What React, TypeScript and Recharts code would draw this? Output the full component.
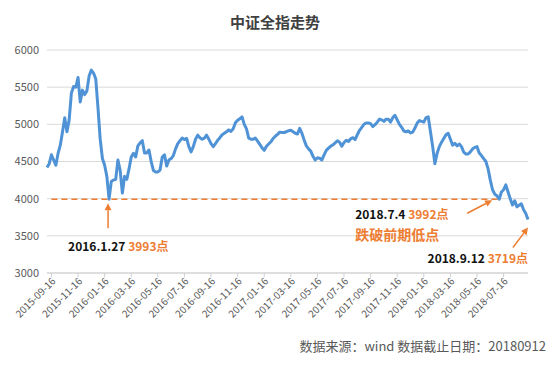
import React from "react";
import {
  CartesianGrid,
  Line,
  LineChart,
  ReferenceDot,
  ReferenceLine,
  XAxis,
  YAxis
} from "recharts";

const dates = [
  "2015-09-06", "2015-09-11", "2015-09-16", "2015-09-21", "2015-09-26",
  "2015-10-01", "2015-10-06", "2015-10-11", "2015-10-16", "2015-10-21", "2015-10-26",
  "2015-11-01", "2015-11-06", "2015-11-11", "2015-11-16", "2015-11-21", "2015-11-26",
  "2015-12-01", "2015-12-06", "2015-12-11", "2015-12-16", "2015-12-21", "2015-12-26",
  "2016-01-01", "2016-01-06", "2016-01-11", "2016-01-16", "2016-01-21", "2016-01-27",
  "2016-02-01", "2016-02-06", "2016-02-11", "2016-02-16", "2016-02-21", "2016-02-26",
  "2016-03-01", "2016-03-06", "2016-03-11", "2016-03-16", "2016-03-21", "2016-03-26",
  "2016-04-01", "2016-04-06", "2016-04-11", "2016-04-16", "2016-04-21", "2016-04-26",
  "2016-05-01", "2016-05-06", "2016-05-11", "2016-05-16", "2016-05-21", "2016-05-26",
  "2016-06-01", "2016-06-06", "2016-06-11", "2016-06-16", "2016-06-21", "2016-06-26",
  "2016-07-01", "2016-07-06", "2016-07-11", "2016-07-16", "2016-07-21", "2016-07-26",
  "2016-08-01", "2016-08-06", "2016-08-11", "2016-08-16", "2016-08-21", "2016-08-26",
  "2016-09-01", "2016-09-06", "2016-09-11", "2016-09-16", "2016-09-21", "2016-09-26",
  "2016-10-01", "2016-10-06", "2016-10-11", "2016-10-16", "2016-10-21", "2016-10-26",
  "2016-11-01", "2016-11-06", "2016-11-11", "2016-11-16", "2016-11-21", "2016-11-26",
  "2016-12-01", "2016-12-06", "2016-12-11", "2016-12-16", "2016-12-21", "2016-12-26",
  "2017-01-01", "2017-01-06", "2017-01-11", "2017-01-16", "2017-01-21", "2017-01-26",
  "2017-02-01", "2017-02-06", "2017-02-11", "2017-02-16", "2017-02-21", "2017-02-26",
  "2017-03-01", "2017-03-06", "2017-03-11", "2017-03-16", "2017-03-21", "2017-03-26",
  "2017-04-01", "2017-04-06", "2017-04-11", "2017-04-16", "2017-04-21", "2017-04-26",
  "2017-05-01", "2017-05-06", "2017-05-11", "2017-05-16", "2017-05-21", "2017-05-26",
  "2017-06-01", "2017-06-06", "2017-06-11", "2017-06-16", "2017-06-21", "2017-06-26",
  "2017-07-01", "2017-07-06", "2017-07-11", "2017-07-16", "2017-07-21", "2017-07-26",
  "2017-08-01", "2017-08-06", "2017-08-11", "2017-08-16", "2017-08-21", "2017-08-26",
  "2017-09-01", "2017-09-06", "2017-09-11", "2017-09-16", "2017-09-21", "2017-09-26",
  "2017-10-01", "2017-10-06", "2017-10-11", "2017-10-16", "2017-10-21", "2017-10-26",
  "2017-11-01", "2017-11-06", "2017-11-11", "2017-11-16", "2017-11-21", "2017-11-26",
  "2017-12-01", "2017-12-06", "2017-12-11", "2017-12-16", "2017-12-21", "2017-12-26",
  "2018-01-01", "2018-01-06", "2018-01-11", "2018-01-16", "2018-01-21", "2018-01-26",
  "2018-02-01", "2018-02-06", "2018-02-11", "2018-02-16", "2018-02-21", "2018-02-26",
  "2018-03-01", "2018-03-06", "2018-03-11", "2018-03-16", "2018-03-21", "2018-03-26",
  "2018-04-01", "2018-04-06", "2018-04-11", "2018-04-16", "2018-04-21", "2018-04-26",
  "2018-05-01", "2018-05-06", "2018-05-11", "2018-05-16", "2018-05-21", "2018-05-26",
  "2018-06-01", "2018-06-06", "2018-06-11", "2018-06-16", "2018-06-21", "2018-06-26",
  "2018-07-01", "2018-07-04", "2018-07-11", "2018-07-16", "2018-07-21", "2018-07-26",
  "2018-08-01", "2018-08-06", "2018-08-11", "2018-08-16", "2018-08-21", "2018-08-26",
  "2018-09-01", "2018-09-06", "2018-09-12"
];

// 中证全指 close
const values = [
  4420, 4470, 4590, 4520, 4450,
  4610, 4720, 4900, 5090, 4900, 5060,
  5420, 5510, 5500, 5630, 5300, 5460,
  5400, 5450, 5650, 5730, 5690, 5610,
  5220, 4800, 4540, 4450, 4300, 3993,
  4230, 4250, 4260, 4520, 4380, 4075,
  4300, 4260, 4400, 4560, 4610, 4560,
  4710, 4750, 4780, 4615, 4615, 4655,
  4500, 4380, 4360, 4360, 4385, 4560,
  4590, 4440, 4520, 4540, 4580, 4670,
  4740, 4780, 4815, 4795, 4810, 4700,
  4630, 4700, 4800, 4855, 4820, 4800,
  4815, 4855, 4800, 4740, 4700, 4740,
  4785, 4820, 4860, 4880, 4900, 4925,
  4905, 4940, 5020, 5055, 5075, 5100,
  5000, 4940, 4815, 4800, 4800, 4815,
  4775, 4730, 4685, 4650, 4705, 4735,
  4765, 4810, 4840, 4865, 4895, 4890,
  4890, 4900, 4915, 4920, 4900, 4880,
  4870, 4945, 4880, 4790, 4710, 4670,
  4640, 4570, 4520, 4550, 4545, 4520,
  4590, 4650, 4680, 4705, 4725, 4750,
  4780, 4760, 4705, 4755, 4785, 4770,
  4805, 4820, 4795, 4860, 4920, 4960,
  5000, 5018, 5018, 5010, 4970, 4995,
  5030, 5070, 5060, 5040, 5070, 5070,
  5030, 5090, 5120, 5060, 5000, 4960,
  4910, 4900, 4910, 4885, 4895, 4950,
  5018, 5050, 5040, 5030, 5090, 5100,
  4900, 4700, 4470, 4610, 4700, 4760,
  4810, 4860, 4880, 4800, 4720, 4745,
  4710, 4735, 4700, 4625, 4600, 4600,
  4630, 4670, 4690, 4700, 4615, 4580,
  4540, 4500, 4400, 4250, 4120, 4060,
  4040, 3992, 4090, 4120, 4185, 4090,
  4000, 3915, 3970, 3890, 3910, 3930,
  3850, 3800, 3719
];

const tickLabels = [
  "2015-09-16", "2015-11-16", "2016-01-16", "2016-03-16", "2016-05-16", "2016-07-16",
  "2016-09-16", "2016-11-16", "2017-01-16", "2017-03-16", "2017-05-16", "2017-07-16",
  "2017-09-16", "2017-11-16", "2018-01-16", "2018-03-16", "2018-05-16", "2018-07-16"
];

const yTicks = [3000, 3500, 4000, 4500, 5000, 5500, 6000];

const data = dates.map((d, i) => ({ date: d, value: values[i] }));

const BLUE = "#4f93d6";
const ORANGE = "#ed7d31";
const GREY = "#595959";
const FONT = "'Noto Sans CJK SC', 'Noto Sans', sans-serif";

function XTick({ x, y, payload }: any) {
  return (
    <text
      x={x + 2}
      y={y}
      transform={`rotate(-45 ${x + 2} ${y})`}
      textAnchor="end"
      dy={4}
      fill={GREY}
      fontSize={10}
      fontFamily={FONT}
    >
      {payload.value}
    </text>
  );
}

function Arrow({ x1, y1, x2, y2 }: { x1: number; y1: number; x2: number; y2: number }) {
  const a = Math.atan2(y2 - y1, x2 - x1);
  const len = 7;
  const w = 3.5;
  const bx = x2 - len * Math.cos(a);
  const by = y2 - len * Math.sin(a);
  const pts = [
    [x2, y2],
    [bx + w * Math.sin(a), by - w * Math.cos(a)],
    [bx - w * Math.sin(a), by + w * Math.cos(a)]
  ]
    .map((p) => p.join(","))
    .join(" ");
  return (
    <g>
      <line x1={x1} y1={y1} x2={bx} y2={by} stroke={ORANGE} strokeWidth={1.5} />
      <polygon points={pts} fill={ORANGE} />
    </g>
  );
}

function Note({ x, y, date, val, anchor = "start" }: any) {
  return (
    <text x={x} y={y} textAnchor={anchor} fontSize={12} fontWeight="bold" fontFamily={FONT}>
      <tspan fill="#111">{date} </tspan>
      <tspan fill={ORANGE}>{val}点</tspan>
    </text>
  );
}

export default function App() {
  return (
    <div style={{ position: "absolute", left: 0, top: 0, width: 550, height: 367, background: "#fff", fontFamily: FONT }}>
      <div
        style={{
          position: "absolute",
          top: 11,
          left: 0,
          width: 550,
          textAlign: "center",
          fontSize: 15,
          fontWeight: "bold",
          color: "#404040"
        }}
      >
        中证全指走势
      </div>
      <LineChart width={550} height={367} data={data} margin={{ top: 50, right: 22, left: 0, bottom: 0 }}>
        <CartesianGrid stroke="#d9d9d9" vertical={false} />
        <XAxis
          dataKey="date"
          ticks={tickLabels}
          interval={0}
          tick={<XTick />}
          tickSize={4}
          tickMargin={2}
          stroke="#d0d0d0"
          height={94}
        />
        <YAxis
          domain={[3000, 6000]}
          ticks={yTicks}
          width={47}
          axisLine={false}
          tickLine={false}
          tick={{ fill: GREY, fontSize: 11, fontFamily: FONT }}
        />
        <ReferenceLine
          segment={[
            { x: "2015-09-16", y: 3993 },
            { x: "2018-07-04", y: 3993 }
          ]}
          stroke={ORANGE}
          strokeWidth={1.5}
          strokeDasharray="6 4"
        />
        <Line
          type="linear"
          dataKey="value"
          stroke={BLUE}
          strokeWidth={3}
          strokeLinejoin="round"
          dot={false}
          isAnimationActive={false}
        />
        <ReferenceDot
          x="2016-01-27"
          y={3993}
          shape={({ cx, cy }: any) => (
            <g>
              <Arrow x1={cx - 1} y1={cy + 29} x2={cx - 1} y2={cy + 4} />
              <Note x={cx - 41} y={cy + 52} date="2016.1.27" val={3993} />
            </g>
          )}
        />
        <ReferenceDot
          x="2018-07-04"
          y={3992}
          shape={({ cx, cy }: any) => (
            <g>
              <Arrow x1={cx - 32} y1={cy + 14} x2={cx - 7} y2={cy + 1} />
              <Note x={cx - 144} y={cy + 20} date="2018.7.4" val={3992} />
              <text x={cx - 144} y={cy + 41} fill={ORANGE} fontSize={14} fontWeight="bold" fontFamily={FONT}>
                跌破前期低点
              </text>
            </g>
          )}
        />
        <ReferenceDot
          x="2018-09-12"
          y={3719}
          shape={({ cx, cy }: any) => (
            <g>
              <Arrow x1={cx - 15} y1={cy + 28} x2={cx} y2={cy + 8} />
              <Note x={cx} y={cy + 43} date="2018.9.12" val={3719} anchor="end" />
            </g>
          )}
        />
      </LineChart>
      <div style={{ position: "absolute", right: 4, top: 336, fontSize: 13, color: GREY }}>
        数据来源：wind 数据截止日期：20180912
      </div>
    </div>
  );
}
